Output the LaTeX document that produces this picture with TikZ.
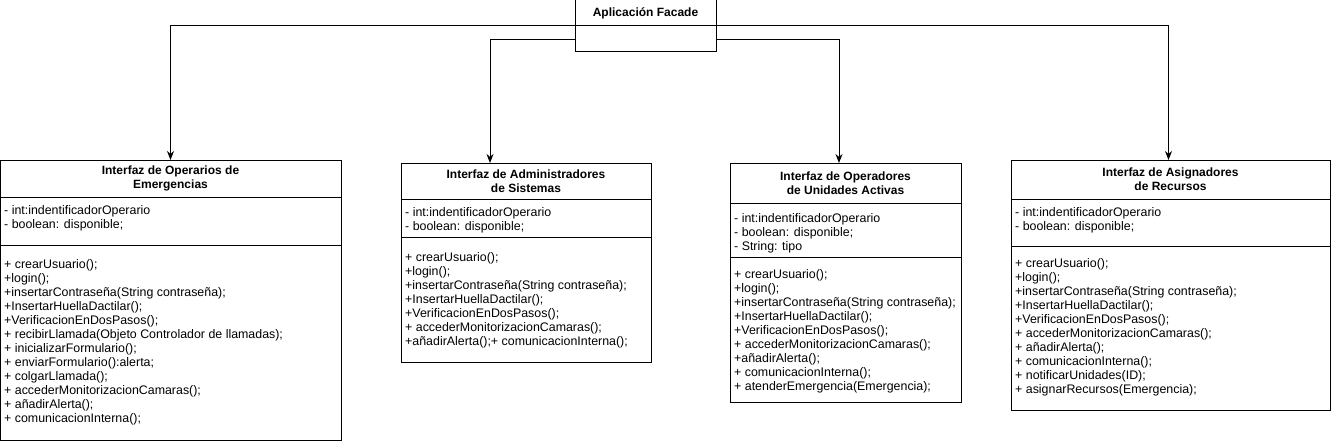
\documentclass[tikz,border=0pt]{standalone}
\usepackage{fontspec}
\setmainfont{Liberation Sans}
\usetikzlibrary{arrows.meta, positioning}

\tikzset{
  classhead/.style={draw, line width=1pt, fill=white, anchor=north west, inner sep=0pt, outer sep=0pt,
    align=center, font=\bfseries\fontsize{12}{14}\selectfont},
  classpart/.style={draw, line width=1pt, fill=white, inner sep=0pt, outer sep=0pt},
  members/.style={anchor=north west, inner sep=0pt, align=left, font=\fontsize{12.4}{14}\selectfont},
  assoc/.style={line width=1pt, -{Stealth[length=9pt, width=7pt]}}
}

\begin{document}
\begin{tikzpicture}[x=1pt, y=-1pt]
  \useasboundingbox (0,0) rectangle (1331,444);

  % --- Facade ---
  \node[classpart, anchor=north west, minimum width=141pt, minimum height=52pt] (facade) at (575,0) {};
  \draw[line width=1pt] (facade.west) -- (facade.east);
  \node[font=\bfseries\fontsize{12}{14}\selectfont] (facade-title) at (645.5,13) {Aplicación Facade};

  % --- Class 1: Operarios de Emergencias ---
  \node[classhead, minimum width=341pt, minimum height=37pt] (emerg-head) at (0,160)
       {Interfaz de Operarios de\\Emergencias};
  \node[classpart, below=0pt of emerg-head, minimum width=341pt, minimum height=48pt] (emerg-attr) {};
  \node[classpart, below=0pt of emerg-attr, minimum width=341pt, minimum height=195pt] (emerg-meth) {};
  \node[members] (emerg-attr-txt) at ([shift={(4pt,-8.5pt)}]emerg-attr.north west)
       {- int:indentificadorOperario\\- boolean: disponible;};
  \node[members] (emerg-meth-txt) at ([shift={(4pt,-14pt)}]emerg-meth.north west)
       {+ crearUsuario();\\+login();\\+insertarContraseña(String contraseña);\\+InsertarHuellaDactilar();\\
        +VerificacionEnDosPasos();\\+ recibirLlamada(Objeto Controlador de llamadas);\\+ inicializarFormulario();\\
        + enviarFormulario():alerta;\\+ colgarLlamada();\\+ accederMonitorizacionCamaras();\\+ añadirAlerta();\\
        + comunicacionInterna();};

  % --- Class 2: Administradores de Sistemas ---
  \node[classhead, minimum width=250pt, minimum height=36pt] (admin-head) at (401,163)
       {Interfaz de Administradores\\de Sistemas};
  \node[classpart, below=0pt of admin-head, minimum width=250pt, minimum height=38pt] (admin-attr) {};
  \node[classpart, below=0pt of admin-attr, minimum width=250pt, minimum height=125pt] (admin-meth) {};
  \node[members] (admin-attr-txt) at ([shift={(4pt,-8.5pt)}]admin-attr.north west)
       {- int:indentificadorOperario\\- boolean: disponible;};
  \node[members] (admin-meth-txt) at ([shift={(4pt,-15pt)}]admin-meth.north west)
       {+ crearUsuario();\\+login();\\+insertarContraseña(String contraseña);\\+InsertarHuellaDactilar();\\
        +VerificacionEnDosPasos();\\+ accederMonitorizacionCamaras();\\+añadirAlerta();+ comunicacionInterna();};

  % --- Class 3: Operadores de Unidades Activas ---
  \node[classhead, minimum width=231pt, minimum height=40pt] (oper-head) at (730,163)
       {Interfaz de Operadores\\de Unidades Activas};
  \node[classpart, below=0pt of oper-head, minimum width=231pt, minimum height=54pt] (oper-attr) {};
  \node[classpart, below=0pt of oper-attr, minimum width=231pt, minimum height=145pt] (oper-meth) {};
  \node[members] (oper-attr-txt) at ([shift={(4pt,-10pt)}]oper-attr.north west)
       {- int:indentificadorOperario\\- boolean: disponible;\\- String: tipo};
  \node[members] (oper-meth-txt) at ([shift={(4pt,-12pt)}]oper-meth.north west)
       {+ crearUsuario();\\+login();\\+insertarContraseña(String contraseña);\\+InsertarHuellaDactilar();\\
        +VerificacionEnDosPasos();\\+ accederMonitorizacionCamaras();\\+añadirAlerta();\\
        + comunicacionInterna();\\+ atenderEmergencia(Emergencia);};

  % --- Class 4: Asignadores de Recursos ---
  \node[classhead, minimum width=319pt, minimum height=39pt] (asig-head) at (1011,160)
       {Interfaz de Asignadores\\de Recursos};
  \node[classpart, below=0pt of asig-head, minimum width=319pt, minimum height=47pt] (asig-attr) {};
  \node[classpart, below=0pt of asig-attr, minimum width=319pt, minimum height=164pt] (asig-meth) {};
  \node[members] (asig-attr-txt) at ([shift={(4pt,-8.5pt)}]asig-attr.north west)
       {- int:indentificadorOperario\\- boolean: disponible;};
  \node[members] (asig-meth-txt) at ([shift={(4pt,-12pt)}]asig-meth.north west)
       {+ crearUsuario();\\+login();\\+insertarContraseña(String contraseña);\\+InsertarHuellaDactilar();\\
        +VerificacionEnDosPasos();\\+ accederMonitorizacionCamaras();\\+ añadirAlerta();\\
        + comunicacionInterna();\\+ notificarUnidades(ID);\\+ asignarRecursos(Emergencia);};

  % --- Connectors from the facade ---
  \draw[assoc] (facade.west) -| (emerg-head.north);
  \draw[assoc] ([yshift=-14pt]facade.west) -| ([xshift=-36pt]admin-head.north);
  \draw[assoc] ([yshift=-14pt]facade.east) -| ([xshift=-6.5pt]oper-head.north);
  \draw[assoc] (facade.east) -| ([xshift=-2pt]asig-head.north);
\end{tikzpicture}
\end{document}
